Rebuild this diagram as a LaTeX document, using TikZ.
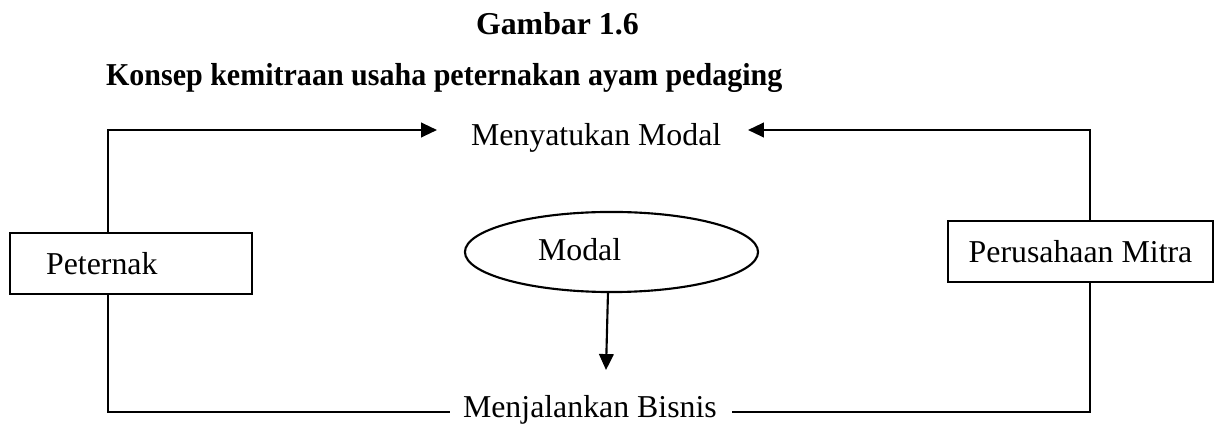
\documentclass[tikz,border=0pt]{standalone}
\usepackage{graphicx}
\usepackage{fontspec}
\setmainfont{Liberation Serif}
\usetikzlibrary{arrows.meta,shapes.geometric}
\begin{document}
\begin{tikzpicture}[x=0.377pt,y=-0.377pt,
  line width=0.8pt,
  txt/.style={inner sep=0pt,font=\fontsize{12}{14}\selectfont},
  ttl/.style={inner sep=0pt,font=\fontsize{12}{14}\selectfont\bfseries},
  boxnode/.style={draw,rectangle,minimum height=23pt,inner ysep=0pt,font=\fontsize{12}{14}\selectfont},
  arr/.style={-{Triangle[length=6pt,width=5.5pt]}}]
\useasboundingbox (0,0) rectangle (1214,426);
% titles
\node[ttl,anchor=base west] (t1) at (475,35) {Gambar 1.6};
\node[ttl,anchor=base west] (t2) at (105,86) {\scalebox{0.943}[1]{Konsep kemitraan usaha peternakan ayam pedaging}};
% texts
\node[txt,anchor=base west] (top) at (470,146) {Menyatukan Modal};
\node[txt,anchor=base west] (bot) at (462,418) {Menjalankan Bisnis};
% boxes
\node[boxnode,minimum width=91.2pt,text width=64pt,inner xsep=13.6pt,align=left] (pet) at (131,263.5) {Peternak};
\node[boxnode,minimum width=99.9pt] (per) at (1080.5,251.5) {Perusahaan Mitra};
% ellipse
\node[draw,ellipse,minimum width=110.5pt,minimum height=30.2pt,inner sep=0pt] (mod) at (611.5,252) {};
\node[txt,anchor=base west] (modt) at (537,261) {Modal};
% coordinates
\coordinate (ltop) at (108,130);
\coordinate (rtop) at (1090,130);
\coordinate (lbot) at (108,412);
\coordinate (rbot) at (1090,412);
\coordinate (ta) at (437,130);
\coordinate (tb) at (748,130);
\coordinate (ba) at (450,412);
\coordinate (bb) at (732,412);
\coordinate (ms) at (608,292);
\coordinate (me) at (606,370);
% connectors
\draw[arr] (pet.north -| ltop) -- (ltop) -- (ta);
\draw[arr] (per.north -| rtop) -- (rtop) -- (tb);
\draw (pet.south -| lbot) -- (lbot) -- (ba);
\draw (per.south -| rbot) -- (rbot) -- (bb);
\draw[arr] (ms) -- (me);
\end{tikzpicture}
\end{document}
